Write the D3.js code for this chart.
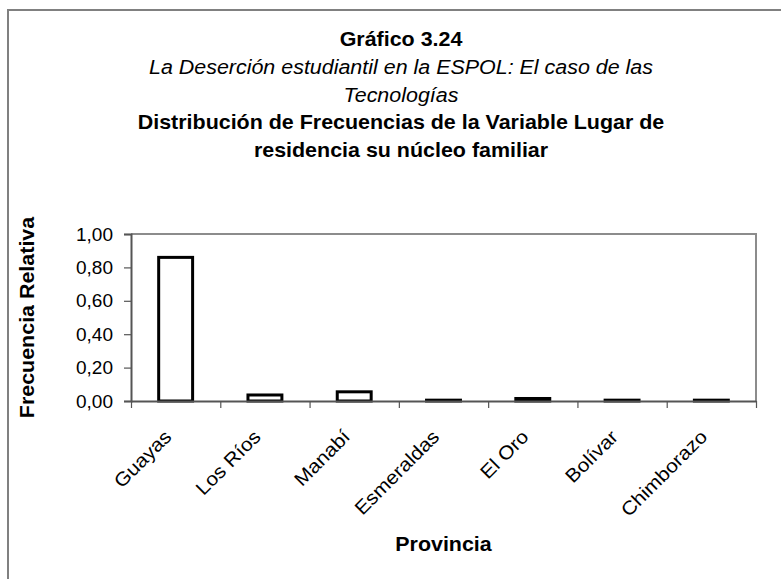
<!DOCTYPE html>
<html>
<head>
<meta charset="utf-8">
<script src="https://cdn.jsdelivr.net/npm/d3@7"></script>
<style>
  body { margin: 0; background: #fff; }
  text { font-family: "Liberation Sans", Arial, sans-serif; fill: #000; }
</style>
</head>
<body>
<svg></svg>
<script>
const provincias = ["Guayas", "Los Ríos", "Manabí", "Esmeraldas", "El Oro", "Bolívar", "Chimborazo"]
const frecuencias = [0.86, 0.036, 0.055, 0.005, 0.015, 0.005, 0.005]
const yTicks = [0, 0.2, 0.4, 0.6, 0.8, 1.0]

const titleLines = [
    { text: "Gráfico 3.24", bold: true, italic: false },
    { text: "La Deserción estudiantil en la ESPOL: El caso de las", bold: false, italic: true },
    { text: "Tecnologías", bold: false, italic: true },
    { text: "Distribución de Frecuencias de la Variable Lugar de", bold: true, italic: false },
    { text: "residencia su núcleo familiar", bold: true, italic: false }
]
const xTitle = "Provincia"
const yTitle = "Frecuencia Relativa"

const width = 781
const height = 579
const plot = { left: 131, right: 756, top: 234, bottom: 401 }
const stretch = 1.1   // text in the picture is drawn a little wider than normal

const svg = d3.select('svg')
    .attr('width', width)
    .attr('height', height)

// outer chart border (only top and left are visible)
svg.append('rect')
    .attr('x', 8)
    .attr('y', 10)
    .attr('width', width + 20)
    .attr('height', height + 20)
    .attr('fill', '#fff')
    .attr('stroke', '#808080')
    .attr('stroke-width', 2)

// titles
svg.selectAll('.title')
    .data(titleLines)
    .enter()
    .append('text')
    .attr('class', 'title')
    .attr('transform', (d, i) => 'translate(401,' + (46 + i * 27.8) + ') scale(' + stretch + ',1)')
    .attr('text-anchor', 'middle')
    .style('font-size', '19.5px')
    .style('font-weight', d => d.bold ? 'bold' : 'normal')
    .style('font-style', d => d.italic ? 'italic' : 'normal')
    .text(d => d.text)

const yScale = d3.scaleLinear()
    .domain([0, 1])
    .range([plot.bottom, plot.top])

const xBand = d3.scaleBand()
    .domain(provincias)
    .range([plot.left, plot.right])
    .paddingInner(0.62)
    .paddingOuter(0.31)

const xEdge = d3.scaleLinear()
    .domain([0, provincias.length])
    .range([plot.left, plot.right])

// plot frame: top and right in light gray
svg.append('path')
    .attr('d', `M${plot.left},${plot.top}H${plot.right}V${plot.bottom}`)
    .attr('fill', 'none')
    .attr('stroke', '#8c8c8c')
    .attr('stroke-width', 2)

// bars
svg.selectAll('.bar')
    .data(frecuencias)
    .enter()
    .append('rect')
    .attr('class', 'bar')
    .attr('x', (d, i) => xBand(provincias[i]))
    .attr('width', xBand.bandwidth())
    .attr('y', d => yScale(d))
    .attr('height', d => yScale(0) - yScale(d))
    .attr('fill', '#fff')
    .attr('stroke', '#000')
    .attr('stroke-width', 3)

const comma = d3.formatLocale({ decimal: ",", thousands: ".", grouping: [3], currency: ["", ""] })

let yAxis = d3.axisLeft(yScale)
    .tickValues(yTicks)
    .tickSize(7)
    .tickPadding(11)
    .tickFormat(comma.format(".2f"))

let gy = svg.append('g')
    .attr('id', 'y-axis')
    .attr('transform', 'translate(' + plot.left + ', 0)')
    .call(yAxis)
gy.select('.domain').attr('stroke', '#555').attr('stroke-width', 2)
gy.selectAll('.tick line').attr('stroke', '#555').attr('stroke-width', 1.2)
gy.selectAll('.tick text')
    .style('font-size', '19px')
    .style('font-family', '"Liberation Sans", Arial, sans-serif')
    .attr('fill', '#000')

let xAxis = d3.axisBottom(xEdge)
    .tickValues(d3.range(provincias.length + 1))
    .tickSize(7)
    .tickSizeOuter(0)
    .tickFormat('')

let gx = svg.append('g')
    .attr('id', 'x-axis')
    .attr('transform', 'translate(0, ' + plot.bottom + ')')
    .call(xAxis)
gx.select('.domain').attr('stroke', '#555').attr('stroke-width', 2)
gx.selectAll('.tick line').attr('stroke', '#555').attr('stroke-width', 1.2)

// rotated category labels
svg.selectAll('.xlabel')
    .data(provincias)
    .enter()
    .append('text')
    .attr('class', 'xlabel')
    .attr('text-anchor', 'end')
    .attr('transform', d => 'translate(' + (xBand(d) + xBand.bandwidth() / 2 - 3) + ',' + (plot.bottom + 37) + ') rotate(-45) scale(' + stretch + ',1)')
    .style('font-size', '19px')
    .text(d => d)

// axis titles
svg.append('text')
    .attr('transform', 'translate(' + ((plot.left + plot.right) / 2) + ',551) scale(' + stretch + ',1)')
    .attr('text-anchor', 'middle')
    .style('font-size', '19.5px')
    .style('font-weight', 'bold')
    .text(xTitle)

svg.append('text')
    .attr('transform', 'translate(34,' + ((plot.top + plot.bottom) / 2) + ') rotate(-90) scale(' + stretch + ',1)')
    .attr('text-anchor', 'middle')
    .style('font-size', '19.5px')
    .style('font-weight', 'bold')
    .text(yTitle)
</script>
</body>
</html>
